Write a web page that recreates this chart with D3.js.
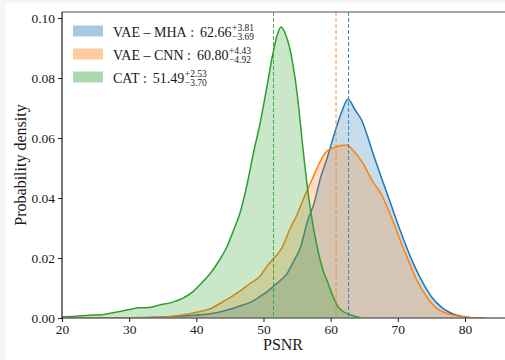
<!DOCTYPE html>
<html>
<head>
<meta charset="utf-8">
<script src="https://cdn.jsdelivr.net/npm/d3@7/dist/d3.min.js"></script>
<style>
  html, body { margin: 0; padding: 0; background: #f6f6f6; }
  svg { display: block; }
  text { font-family: "Liberation Serif", "Times New Roman", serif; fill: #1a1a1a; white-space: pre; }
</style>
</head>
<body>
<svg id="chart" width="505" height="360"></svg>
<script>
// PSNR density estimates for the three models
const seriesNames = ["VAE – MHA", "VAE – CNN", "CAT"];
const seriesColors = ["#1f77b4", "#ff7f0e", "#2ca02c"];

const mhaPsnr = [20, 30, 33, 36, 39, 42, 43.5, 45, 46.5, 48, 49.5, 50.5, 51.5, 52.5, 53.5, 54.5, 55.5, 56.6, 57.5, 58.4, 59.5, 60.5, 61.6, 62.6, 63.6, 64.6, 66.3, 67.6, 68.8, 70.3, 72.3, 73.5, 75, 76.7, 78.7, 81, 83];
const mhaDensity = [0, 0.0001, 0.0002, 0.0004, 0.0008, 0.0014, 0.002, 0.0029, 0.004, 0.0052, 0.0072, 0.0087, 0.0106, 0.0125, 0.0148, 0.019, 0.0235, 0.0327, 0.038, 0.046, 0.0535, 0.061, 0.0685, 0.0729, 0.0695, 0.066, 0.0549, 0.0465, 0.039, 0.0295, 0.0182, 0.0127, 0.0071, 0.0032, 0.001, 0.0001, 0];

const cnnPsnr = [20, 30, 33, 36, 38, 40, 42, 44, 46, 48, 49.5, 50.5, 51.5, 52.7, 54, 55, 56, 57.2, 58.3, 59.3, 60.5, 61.5, 62.4, 63.5, 64.8, 66.3, 67.6, 68.6, 69.5, 70.6, 71.8, 72.8, 74.3, 75.8, 78.2, 80.5, 83];
const cnnDensity = [0, 0.0001, 0.0002, 0.0005, 0.001, 0.0019, 0.003, 0.0055, 0.0082, 0.0115, 0.014, 0.0172, 0.0198, 0.0232, 0.03, 0.0345, 0.04, 0.046, 0.0515, 0.0553, 0.0568, 0.0575, 0.0577, 0.0555, 0.0516, 0.0454, 0.041, 0.036, 0.031, 0.0245, 0.018, 0.0127, 0.0071, 0.0032, 0.001, 0.0002, 0];

const catPsnr = [20, 22, 24, 26, 28, 30, 31.5, 33, 34.5, 36.5, 38, 39.5, 40.5, 42.3, 43.5, 44.5, 45.5, 46.5, 47.5, 48.5, 49.5, 50.5, 51.3, 52, 52.6, 53.2, 54, 54.7, 55.3, 55.8, 56.3, 57, 58, 59, 59.6, 60.3, 61.1, 62, 63.3, 64.6];
const catDensity = [0.0004, 0.0006, 0.0009, 0.0011, 0.0019, 0.0028, 0.0034, 0.0035, 0.0043, 0.0053, 0.0066, 0.0088, 0.011, 0.0155, 0.0195, 0.0235, 0.029, 0.035, 0.044, 0.055, 0.065, 0.077, 0.087, 0.094, 0.097, 0.095, 0.089, 0.08, 0.069, 0.058, 0.048, 0.036, 0.0235, 0.015, 0.0117, 0.0075, 0.0038, 0.002, 0.0008, 0];

// medians and their upper/lower offsets shown in the legend
const medians = [62.66, 60.80, 51.49];
const upperErr = ["+3.81", "+4.43", "+2.53"];
const lowerErr = ["−3.69", "−4.92", "−3.70"];

const xTicks = [20, 30, 40, 50, 60, 70, 80];
const yTicks = [0, 0.02, 0.04, 0.06, 0.08, 0.10];

const svg = d3.select("#chart");
svg.append("rect").attr("x", 6).attr("y", 3).attr("width", 499).attr("height", 357).attr("fill", "#ffffff");

const plotLeft = 62, plotTop = 12, plotBottom = 318, plotRight = 505;
const x = d3.scaleLinear().domain([20, 80]).range([62, 465]);
const y = d3.scaleLinear().domain([0, 0.10]).range([318, 18]);

svg.append("defs").append("clipPath").attr("id", "plotclip")
  .append("rect").attr("x", plotLeft).attr("y", plotTop)
  .attr("width", plotRight - plotLeft).attr("height", plotBottom - plotTop);

const plot = svg.append("g").attr("clip-path", "url(#plotclip)");

const datasets = [
  mhaPsnr.map((v, i) => [v, mhaDensity[i]]),
  cnnPsnr.map((v, i) => [v, cnnDensity[i]]),
  catPsnr.map((v, i) => [v, catDensity[i]])
];

const area = d3.area().x(d => x(d[0])).y0(y(0)).y1(d => y(d[1])).curve(d3.curveMonotoneX);
const line = d3.line().x(d => x(d[0])).y(d => y(d[1])).curve(d3.curveMonotoneX);

datasets.forEach((data, i) => {
  plot.append("path").datum(data).attr("d", area)
    .attr("fill", seriesColors[i]).attr("fill-opacity", 0.25);
  plot.append("path").datum(data).attr("d", line)
    .attr("fill", "none").attr("stroke", seriesColors[i]).attr("stroke-width", 1.5)
    .attr("stroke-linejoin", "round");
});

// median markers
medians.forEach((m, i) => {
  plot.append("line")
    .attr("x1", x(m)).attr("x2", x(m)).attr("y1", plotTop).attr("y2", plotBottom)
    .attr("stroke", seriesColors[i]).attr("stroke-width", 1).attr("stroke-opacity", 0.85)
    .attr("stroke-dasharray", "4,2");
});

// frame
svg.append("line").attr("x1", plotLeft).attr("x2", plotRight).attr("y1", plotTop).attr("y2", plotTop)
  .attr("stroke", "#8a8a8a").attr("stroke-width", 1.5);
svg.append("line").attr("x1", plotLeft).attr("x2", plotRight).attr("y1", plotBottom).attr("y2", plotBottom)
  .attr("stroke", "#6a6a6a").attr("stroke-width", 1.5);

// axes
const xAxis = d3.axisBottom(x).tickValues(xTicks).tickFormat(d3.format("d")).tickSize(4).tickSizeOuter(0);
const gx = svg.append("g").attr("transform", `translate(0,${plotBottom})`).call(xAxis);
gx.select(".domain").remove();
gx.selectAll(".tick line").attr("stroke", "#222").attr("stroke-width", 1);
gx.selectAll(".tick text").attr("font-size", 13.5).attr("fill", "#1a1a1a")
  .attr("font-family", "Liberation Serif, serif").attr("dy", "0.75em").attr("y", 6);

const yAxis = d3.axisLeft(y).tickValues(yTicks).tickFormat(d3.format(".2f")).tickSize(4).tickSizeOuter(0);
const gy = svg.append("g").attr("transform", `translate(${plotLeft},0)`).call(yAxis);
gy.select(".domain").remove();
gy.selectAll(".tick line").attr("stroke", "#222").attr("stroke-width", 1);
gy.selectAll(".tick text").attr("font-size", 13.5).attr("fill", "#1a1a1a")
  .attr("font-family", "Liberation Serif, serif").attr("x", -7);

svg.append("line").attr("x1", plotLeft).attr("x2", plotLeft).attr("y1", plotTop).attr("y2", plotBottom + 0.75)
  .attr("stroke", "#1a1a1a").attr("stroke-width", 1.2);

// axis titles
svg.append("text").attr("x", 283).attr("y", 350).attr("text-anchor", "middle")
  .attr("font-size", 16).text("PSNR");
svg.append("text").attr("transform", "translate(26,165) rotate(-90)").attr("text-anchor", "middle")
  .attr("font-size", 16).text("Probability density");

// legend: swatch, name, colon, median with stacked offsets
const legend = svg.append("g");
seriesNames.forEach((name, i) => {
  const base = 36.5 + i * 23;
  legend.append("rect").attr("x", 73).attr("y", base - 11).attr("width", 30).attr("height", 11)
    .attr("fill", seriesColors[i]).attr("fill-opacity", 0.4);
  const nameText = legend.append("text").attr("x", 113).attr("y", base).attr("font-size", 14).text(name);
  let cx = 113 + nameText.node().getComputedTextLength() + 3.5;
  const colon = legend.append("text").attr("x", cx).attr("y", base).attr("font-size", 14).text(":");
  cx += colon.node().getComputedTextLength() + 6;
  const num = legend.append("text").attr("x", cx).attr("y", base).attr("font-size", 14).text(medians[i].toFixed(2));
  cx += num.node().getComputedTextLength() + 0.5;
  legend.append("text").attr("x", cx).attr("y", base - 5.5).attr("font-size", 9.5).text(upperErr[i]);
  legend.append("text").attr("x", cx).attr("y", base + 3).attr("font-size", 9.5).text(lowerErr[i]);
});
</script>
</body>
</html>
